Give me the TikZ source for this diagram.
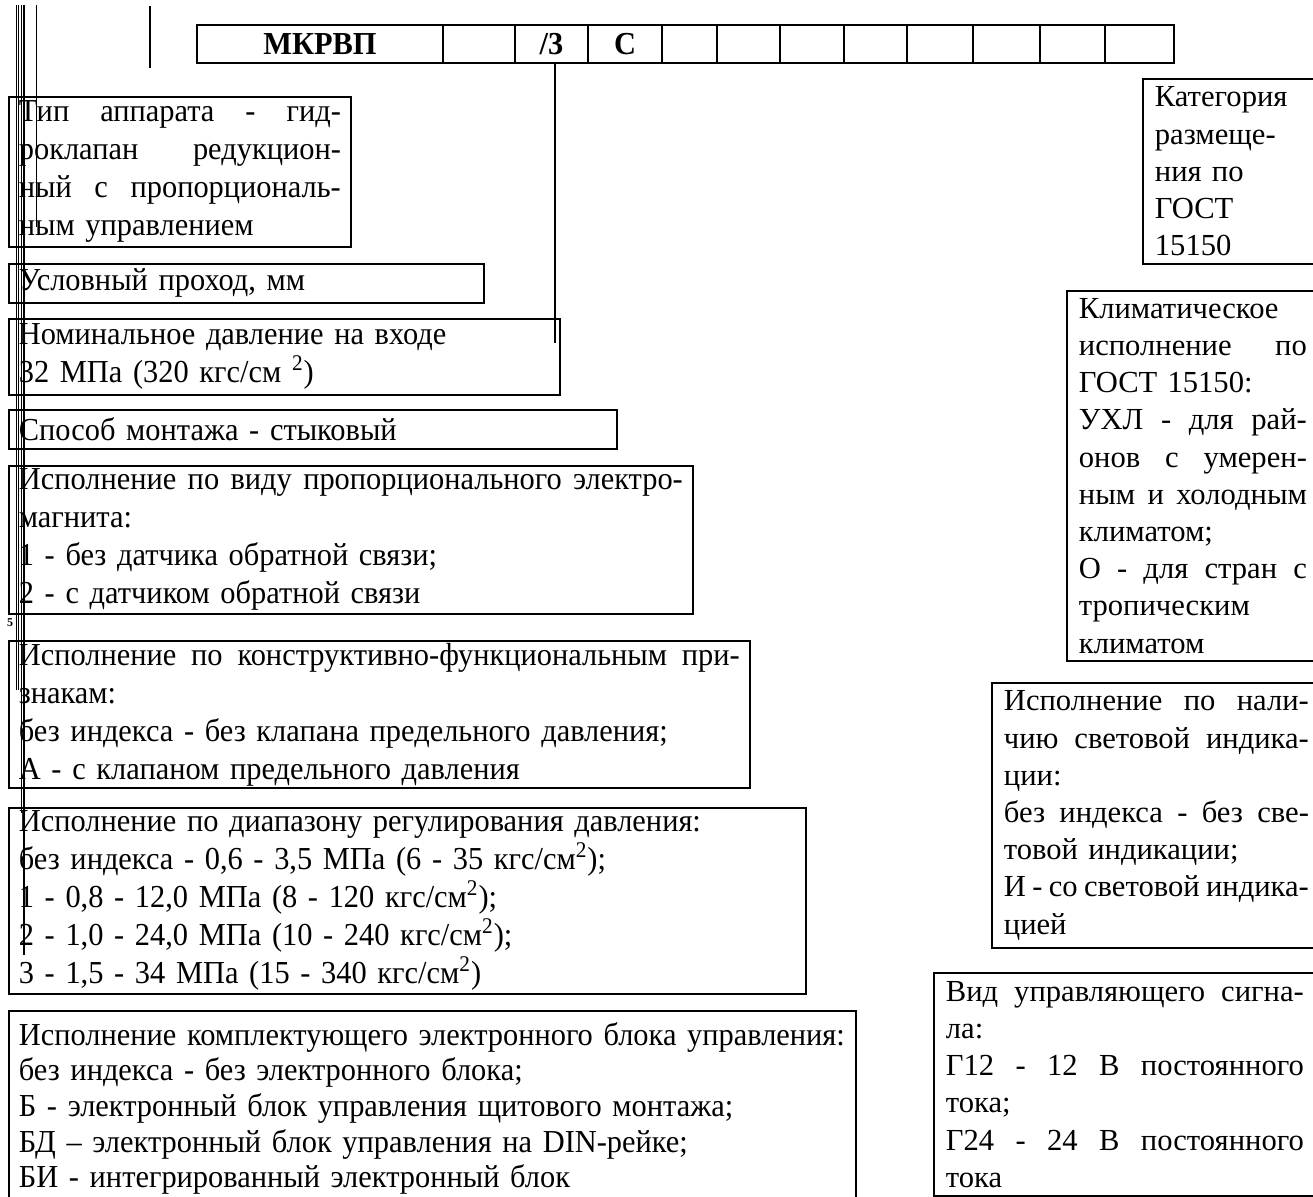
\documentclass[tikz,border=0pt]{standalone}
\usepackage{fontspec}
\setmainfont{Liberation Serif}
\newfontfamily\narrowfont[FakeStretch=0.95]{Liberation Serif}
\usetikzlibrary{positioning}

\newcommand{\lfont}{\narrowfont\fontsize{16}{19}\selectfont}
\newcommand{\rfont}{\fontsize{15.3}{18.6}\selectfont}
\newcommand{\jline}[1]{\noindent\hbox to\hsize{\spaceskip=.25em plus 1fil minus .1em\relax #1}\\}

\begin{document}
\begin{tikzpicture}[x=0.5pt, y=-0.5pt, line width=0.9pt,
    cell/.style={draw, minimum height=19pt, inner sep=0pt, outer sep=0pt,
      font=\narrowfont\bfseries\fontsize{16}{16}\selectfont},
    lbox/.style={draw, anchor=north west, inner xsep=5pt, inner ysep=0pt, align=left, font=\lfont},
    rbox/.style={draw, anchor=north west, inner xsep=6pt, inner ysep=0pt, align=left, font=\rfont},
    rule/.style={line width=0.5pt}]

  \useasboundingbox (0,0) rectangle (1313,1196);

  % Code row
  \node[cell, minimum width=123pt, anchor=north west] (c1) at (197,25) {МКРВП};
  \node[cell, minimum width=36pt, right=0pt of c1] (c2) {};
  \node[cell, minimum width=36.5pt, right=0pt of c2] (c3) {/3};
  \node[cell, minimum width=37pt, right=0pt of c3] (c4) {С};
  \foreach \w [count=\i from 5] in {27.5,31.5,32,31.5,33,33.5,32.5,34.5} {
    \pgfmathtruncatemacro\j{\i-1}
    \node[cell, minimum width=\w pt, right=0pt of c\j] (c\i) {};
  }

  % Left boxes
  \node[lbox, text width=161pt, minimum height=75pt] (type) at (8,96) {%
    \jline{Тип аппарата - гид-}%
    \jline{роклапан редукцион-}%
    \jline{ный с пропорциональ-}%
    ным управлением};
  \node[lbox, text width=227.5pt, minimum height=19.5pt] (bore) at (8,263) {Условный проход, мм};
  \node[lbox, text width=265.5pt, minimum height=38pt] (pnom) at (8,318) {%
    Номинальное давление на входе\\
    32 МПа (320 кгс/см \textsuperscript{2})};
  \node[lbox, text width=294pt, minimum height=19.5pt] (mount) at (8,409) {Способ монтажа - стыковый};
  \node[lbox, text width=332pt, minimum height=74pt] (magnet) at (8,465) {%
    \jline{Исполнение по виду пропорционального электро-}%
    магнита:\\
    1 - без датчика обратной связи;\\
    2 - с датчиком обратной связи};
  \node[font=\bfseries\fontsize{6}{6}\selectfont, inner sep=0pt] (mark) at (10,623) {5};
  \node[lbox, text width=360.5pt, minimum height=73.5pt] (valve) at (8,640) {%
    \jline{Исполнение по конструктивно-функциональным при-}%
    знакам:\\
    без индекса - без клапана предельного давления;\\
    А - с клапаном предельного давления};
  \node[lbox, text width=388.5pt, minimum height=93pt] (range) at (8,807) {%
    Исполнение по диапазону регулирования давления:\\
    без индекса - 0,6 - 3,5 МПа (6 - 35 кгс/см\textsuperscript{2});\\
    1 - 0,8 - 12,0 МПа (8 - 120 кгс/см\textsuperscript{2});\\
    2 - 1,0 - 24,0 МПа (10 - 240 кгс/см\textsuperscript{2});\\
    3 - 1,5 - 34 МПа (15 - 340 кгс/см\textsuperscript{2})};
  \node[lbox, text width=413.5pt, minimum height=97.5pt,
        font=\narrowfont\fontsize{16}{17.8}\selectfont] (ecu) at (8,1010) {%
    Исполнение комплектующего электронного блока управления:\\
    без индекса - без электронного блока;\\
    Б - электронный блок управления щитового монтажа;\\
    БД – электронный блок управления на DIN-рейке;\\
    БИ - интегрированный электронный блок};

  % Right boxes
  \node[rbox, text width=75pt, minimum height=92.5pt] (place) at (1142,78) {%
    Категория\\ размеще-\\ ния по\\ ГОСТ\\ 15150};
  \node[rbox, text width=114pt, minimum height=185pt] (clim) at (1066,290) {%
    Климатическое\\
    \jline{исполнение по}%
    ГОСТ 15150:\\
    \jline{УХЛ - для рай-}%
    \jline{онов с умерен-}%
    \jline{ным и холодным}%
    климатом;\\
    \jline{О - для стран с}%
    тропическим\\
    климатом};
  \node[rbox, text width=152.5pt, minimum height=132.5pt] (light) at (991,682) {%
    \jline{Исполнение по нали-}%
    \jline{чию световой индика-}%
    ции:\\
    \jline{без индекса - без све-}%
    товой индикации;\\
    \jline{И - со световой индика-}%
    цией};
  \node[rbox, text width=179pt, minimum height=111.5pt] (signal) at (933,972) {%
    \jline{Вид управляющего сигна-}%
    ла:\\
    \jline{Г12 - 12 В постоянного}%
    тока;\\
    \jline{Г24 - 24 В постоянного}%
    тока};

  % Leader from the pressure cell
  \coordinate (lead) at (555,343);
  \draw (lead |- c3.south) -- (lead);

  % Margin rules
  \draw (150,6) -- (150,68);
  \draw[rule] (16,5) -- (16,690);
  \draw[rule] (18,5) -- (18,690);
  \draw[rule] (21,5) -- (21,813);
  \draw[line width=1.3pt] (24,5) -- (24,955);
  \draw[rule] (36,5) -- (36,227);

\end{tikzpicture}
\end{document}
